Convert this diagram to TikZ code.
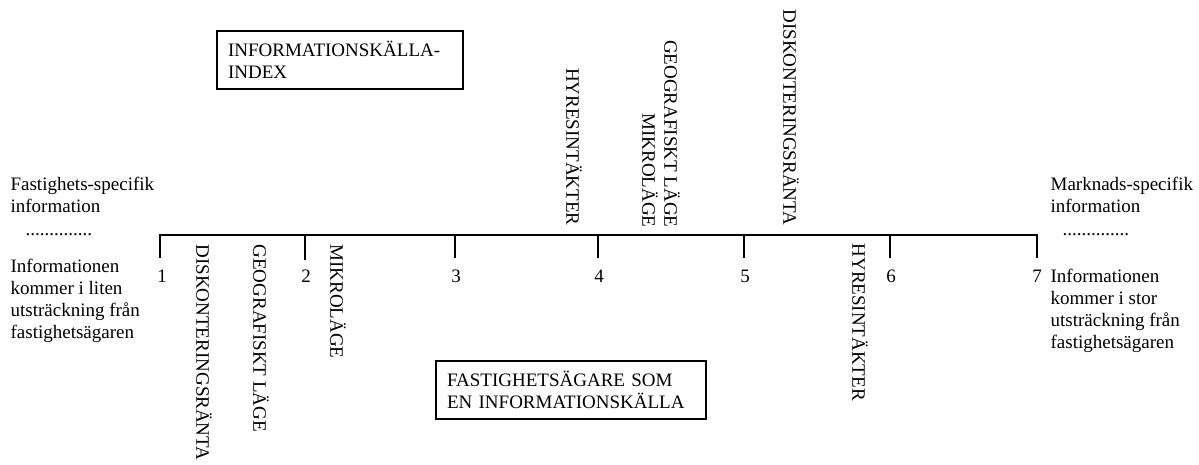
\documentclass[tikz,border=0pt]{standalone}
\usepackage{fontspec}
\setmainfont{Liberation Serif}

\begin{document}
\begin{tikzpicture}[
  x=1pt,
  y=-1pt,
  font=\fontsize{19}{22}\selectfont,
  line width=1.2pt,
  num/.style={
    inner sep=0pt,
    anchor=base
  },
  factor/.style={
    rotate=-90,
    inner sep=0pt,
    align=right
  },
  info/.style={
    inner sep=0pt,
    anchor=north west,
    align=left
  },
  frame/.style={
    draw,
    inner xsep=11pt,
    inner ysep=0pt,
    text width=224pt,
    minimum height=58pt,
    align=left
  }
  ]
  \useasboundingbox (0, 0) rectangle (1199, 464);

  % scale
  \coordinate (T1) at (160, 235);
  \coordinate (T2) at (305, 235);
  \coordinate (T3) at (455, 235);
  \coordinate (T4) at (598, 235);
  \coordinate (T5) at (744, 235);
  \coordinate (T6) at (890, 235);
  \coordinate (T7) at (1037, 235);
  \coordinate (B1) at (160, 258);
  \coordinate (B2) at (305, 260);
  \coordinate (B3) at (455, 258);
  \coordinate (B4) at (598, 258);
  \coordinate (B5) at (744, 258);
  \coordinate (B6) at (890, 258);
  \coordinate (B7) at (1037, 258);

  \draw (B1) -- (T1) -- (T7) -- (B7);
  \draw (T2) -- (B2);
  \draw (T3) -- (B3);
  \draw (T4) -- (B4);
  \draw (T5) -- (B5);
  \draw (T6) -- (B6);

  \node [num] (N1) at (162, 282) {1};
  \node [num] (N2) at (306, 282) {2};
  \node [num] (N3) at (456, 282) {3};
  \node [num] (N4) at (599, 282) {4};
  \node [num] (N5) at (745, 282) {5};
  \node [num] (N6) at (891, 282) {6};
  \node [num] (N7) at (1037, 282) {7};

  % factors, owner
  \node [factor, anchor=west] (DiskOwner) at (204, 244) {DISKONTERINGSRÄNTA};
  \node [factor, anchor=west] (GeoOwner) at (261, 244) {GEOGRAFISKT LÄGE};
  \node [factor, anchor=west] (MikroOwner) at (338, 244) {MIKROLÄGE};
  \node [factor, anchor=west] (HyrOwner) at (860, 243) {HYRESINTÄKTER};

  % factors, index
  \node [factor, anchor=east] (HyrIndex) at (574, 226) {HYRESINTÄKTER};
  \node [factor, anchor=east] (GeoIndex) at (661, 228) {GEOGRAFISKT LÄGE\\MIKROLÄGE};
  \node [factor, anchor=east] (DiskIndex) at (791, 226) {DISKONTERINGSRÄNTA};

  \node [frame] (Index) at (340, 60) {INFORMATIONSKÄLLA-\\INDEX};
  \node [frame, text width=248pt] (Owner) at (571, 390) {FASTIGHETSÄGARE SOM\\EN INFORMATIONSKÄLLA};

  % ends of the scale
  \node [info] (Specific) at (10, 177) {Fastighets-specifik\\information};
  \node [info, anchor=base west] (DotsL) at (25, 235) {..............};
  \node [info] (Little) at (10, 259) {Informationen\\kommer i liten\\utsträckning från\\fastighetsägaren};
  \node [info] (Market) at (1050, 177) {Marknads-specifik\\information};
  \node [info, anchor=base west] (DotsR) at (1062, 235) {..............};
  \node [info] (Much) at (1050, 269) {Informationen\\kommer i stor\\utsträckning från\\fastighetsägaren};
\end{tikzpicture}
\end{document}
